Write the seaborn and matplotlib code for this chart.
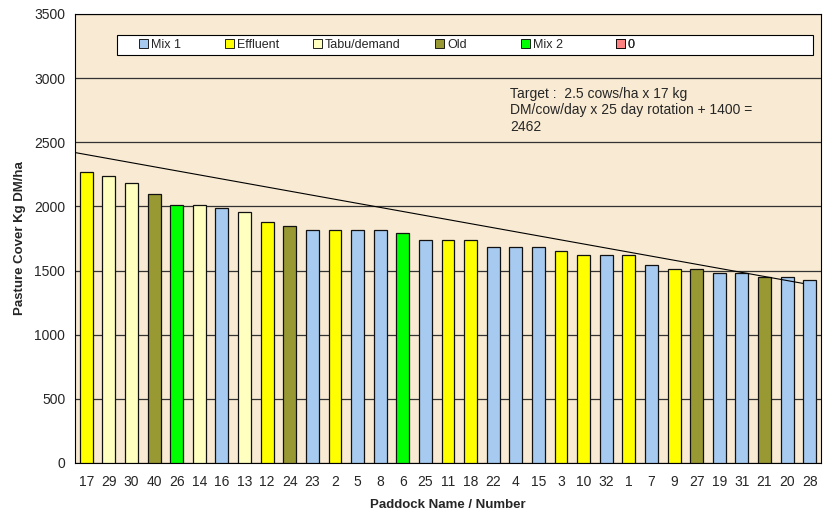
#!/usr/bin/env python3
"""Pasture cover per paddock, coloured by paddock type, with target wedge line."""

import matplotlib
matplotlib.use("Agg")
import matplotlib.pyplot as plt
from matplotlib.patches import Patch, Rectangle
import numpy as np
import pandas as pd
import seaborn as sns

PADDOCKS = ["17", "29", "30", "40", "26", "14", "16", "13", "12", "24", "23", "2",
            "5", "8", "6", "25", "11", "18", "22", "4", "15", "3", "10", "32", "1",
            "7", "9", "27", "19", "31", "21", "20", "28"]
COVER = [2265, 2240, 2180, 2100, 2015, 2015, 1985, 1960, 1875, 1845, 1820, 1820,
         1820, 1820, 1790, 1735, 1735, 1735, 1680, 1680, 1680, 1650, 1620, 1620, 1620,
         1540, 1510, 1510, 1480, 1480, 1450, 1450, 1425]
TYPES = ["Effluent", "Tabu/demand", "Tabu/demand", "Old", "Mix 2", "Tabu/demand", "Mix 1",
         "Tabu/demand", "Effluent", "Old", "Mix 1", "Effluent", "Mix 1", "Mix 1", "Mix 2",
         "Mix 1", "Effluent", "Effluent", "Mix 1", "Mix 1", "Mix 1", "Effluent", "Effluent",
         "Mix 1", "Effluent", "Mix 1", "Effluent", "Old", "Mix 1", "Mix 1", "Old", "Mix 1",
         "Mix 1"]
LEGEND_ORDER = ["Mix 1", "Effluent", "Tabu/demand", "Old", "Mix 2", "0"]
COLOURS = ["#A6CAF0", "#FFFF00", "#FFFFC0", "#999933", "#00FF00", "#FF8080"]

# target wedge: runs from left edge of the axis down to the rotation floor
TARGET_X = [-0.5, 31.7]
TARGET_Y = [2420, 1400]
TARGET_TEXT = "Target :  2.5 cows/ha x 17 kg\nDM/cow/day x 25 day rotation + 1400 =\n2462"

df = pd.DataFrame({"paddock": PADDOCKS, "cover": COVER, "type": TYPES})
palette = dict(zip(LEGEND_ORDER, COLOURS))

sns.set_theme(style="white")
plt.rcParams["font.family"] = ["Liberation Sans", "DejaVu Sans"]

W, H = 826, 512
AX_L, AX_R, AX_T, AX_B = 75, 821, 14, 463


def ax_frac(px, py):
    # pixel position in the figure -> axes fraction
    return (px - AX_L) / (AX_R - AX_L), (AX_B - py) / (AX_B - AX_T)


fig = plt.figure(figsize=(W / 100, H / 100), dpi=100)
ax = fig.add_axes([AX_L / W, 1 - AX_B / H, (AX_R - AX_L) / W, (AX_B - AX_T) / H])
ax.set_facecolor("#F9EBD3")

sns.barplot(data=df, x="paddock", y="cover", hue="type", palette=palette,
            order=PADDOCKS, dodge=False, width=0.57, saturation=1,
            edgecolor="#111111", linewidth=0.9, legend=False, ax=ax, zorder=3)

ax.plot(TARGET_X, TARGET_Y, color="black", linewidth=0.8, zorder=4)

ax.set_ylim(0, 3500)
ax.set_xlim(-0.5, len(PADDOCKS) - 0.5)
ax.set_yticks(np.arange(0, 3501, 500))
ax.yaxis.grid(True, color="#333333", linewidth=0.9, zorder=0)
ax.set_axisbelow(True)

ax.tick_params(axis="x", which="major", length=0, labelsize=10, pad=9)
ax.set_xticks(np.arange(-0.5, len(PADDOCKS), 1), minor=True)
ax.tick_params(axis="x", which="minor", length=4, width=0.8, color="black", direction="out")
ax.tick_params(axis="y", length=4, width=0.8, color="black", direction="out", labelsize=10, pad=3)
for spine in ax.spines.values():
    spine.set_color("black")
    spine.set_linewidth(0.8)

ax.set_xlabel("Paddock Name / Number", fontsize=9.5, fontweight="bold", labelpad=7)
ax.set_ylabel("Pasture Cover Kg DM/ha", fontsize=9.5, fontweight="bold", labelpad=6)

ax.text(*ax_frac(510, 87), TARGET_TEXT, transform=ax.transAxes,
        fontsize=10, va="top", ha="left", linespacing=1.22)

# legend box, Excel style: white strip with entries at uneven spacing
box_x, box_y = ax_frac(117, 55)
ax.add_patch(Rectangle((box_x, box_y), 696 / (AX_R - AX_L), 20 / (AX_B - AX_T),
                       transform=ax.transAxes, facecolor="white", edgecolor="black",
                       linewidth=0.8, zorder=5, clip_on=False))
LEGEND_PX = [139, 225, 313, 435, 521, 616]
for label, colour, px in zip(LEGEND_ORDER, COLOURS, LEGEND_PX):
    leg = ax.legend(handles=[Patch(facecolor=colour, edgecolor="black", linewidth=0.6, label=label)],
                    loc="center left", bbox_to_anchor=ax_frac(px, 45),
                    fontsize=9, frameon=False, handlelength=0.75, handleheight=0.75,
                    handletextpad=0.2, borderaxespad=0, borderpad=0)
    leg.set_zorder(6)
    ax.add_artist(leg)

fig.savefig("out.png", dpi=100)
